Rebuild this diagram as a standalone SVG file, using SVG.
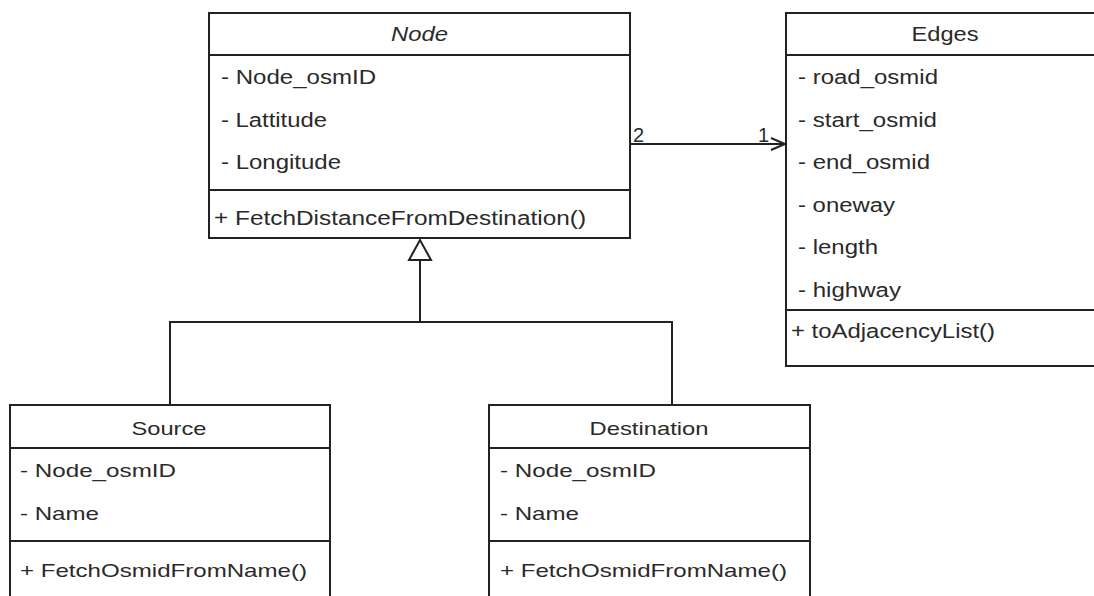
<svg xmlns="http://www.w3.org/2000/svg" width="1094" height="596" viewBox="0 0 1094 596">
<style>
.box{fill:#fff;stroke:#222;stroke-width:2}
.ln{fill:none;stroke:#222;stroke-width:2}
text{font-family:"Liberation Sans",Arial,sans-serif;fill:#2a2a2a}
.t{font-size:20px}
.b{font-size:19px}
.c{text-anchor:middle}
</style>
<rect width="1094" height="596" fill="#fff"/>
<g id="node-Node">
<rect class="box" x="209" y="13" width="421" height="225"/>
<line class="ln" x1="209" y1="55" x2="630" y2="55"/>
<line class="ln" x1="209" y1="190" x2="630" y2="190"/>
<text class="t c" x="419.5" y="41" font-style="italic" textLength="57" lengthAdjust="spacingAndGlyphs">Node</text>
<text class="t" x="221" y="84" textLength="155" lengthAdjust="spacingAndGlyphs">- Node_osmID</text>
<text class="t" x="221" y="126.5" textLength="106" lengthAdjust="spacingAndGlyphs">- Lattitude</text>
<text class="t" x="221" y="169" textLength="120" lengthAdjust="spacingAndGlyphs">- Longitude</text>
<text class="t" x="214" y="225" textLength="372" lengthAdjust="spacingAndGlyphs">+ FetchDistanceFromDestination()</text>
</g>
<g id="node-Edges">
<rect class="box" x="786" y="13" width="322" height="353"/>
<line class="ln" x1="786" y1="55" x2="1108" y2="55"/>
<line class="ln" x1="786" y1="310" x2="1108" y2="310"/>
<text class="t c" x="945" y="41" textLength="67" lengthAdjust="spacingAndGlyphs">Edges</text>
<text class="t" x="798" y="84" textLength="140" lengthAdjust="spacingAndGlyphs">- road_osmid</text>
<text class="t" x="798" y="126.5" textLength="139" lengthAdjust="spacingAndGlyphs">- start_osmid</text>
<text class="t" x="798" y="169" textLength="132" lengthAdjust="spacingAndGlyphs">- end_osmid</text>
<text class="t" x="798" y="211.5" textLength="97" lengthAdjust="spacingAndGlyphs">- oneway</text>
<text class="t" x="798" y="254" textLength="80" lengthAdjust="spacingAndGlyphs">- length</text>
<text class="t" x="798" y="296.5" textLength="103" lengthAdjust="spacingAndGlyphs">- highway</text>
<text class="t" x="791" y="338" textLength="204" lengthAdjust="spacingAndGlyphs">+ toAdjacencyList()</text>
</g>
<g id="node-Source">
<rect class="box" x="10" y="405" width="320" height="220"/>
<line class="ln" x1="10" y1="448" x2="330" y2="448"/>
<line class="ln" x1="10" y1="541" x2="330" y2="541"/>
<text class="b c" x="169" y="435" textLength="75" lengthAdjust="spacingAndGlyphs">Source</text>
<text class="b" x="20" y="477" textLength="156" lengthAdjust="spacingAndGlyphs">- Node_osmID</text>
<text class="b" x="20" y="520" textLength="79" lengthAdjust="spacingAndGlyphs">- Name</text>
<text class="b" x="20" y="577" textLength="287" lengthAdjust="spacingAndGlyphs">+ FetchOsmidFromName()</text>
</g>
<g id="node-Destination">
<rect class="box" x="489" y="405" width="321" height="220"/>
<line class="ln" x1="489" y1="448" x2="810" y2="448"/>
<line class="ln" x1="489" y1="541" x2="810" y2="541"/>
<text class="b c" x="649" y="435" textLength="119" lengthAdjust="spacingAndGlyphs">Destination</text>
<text class="b" x="500" y="477" textLength="156" lengthAdjust="spacingAndGlyphs">- Node_osmID</text>
<text class="b" x="500" y="520" textLength="79" lengthAdjust="spacingAndGlyphs">- Name</text>
<text class="b" x="500" y="577" textLength="287" lengthAdjust="spacingAndGlyphs">+ FetchOsmidFromName()</text>
</g>
<g id="connectors">
<line class="ln" x1="630" y1="144" x2="785" y2="144"/>
<polyline class="ln" points="771,138 785,144 771,150"/>
<text class="t" x="633" y="142" font-size="18">2</text>
<text class="t" x="758" y="142" font-size="18">1</text>
<polyline class="ln" points="170,405 170,322 672,322 672,405"/>
<line class="ln" x1="420" y1="322" x2="420" y2="260"/>
<polygon class="box" points="420,240 409,260 431,260"/>
</g>
</svg>
